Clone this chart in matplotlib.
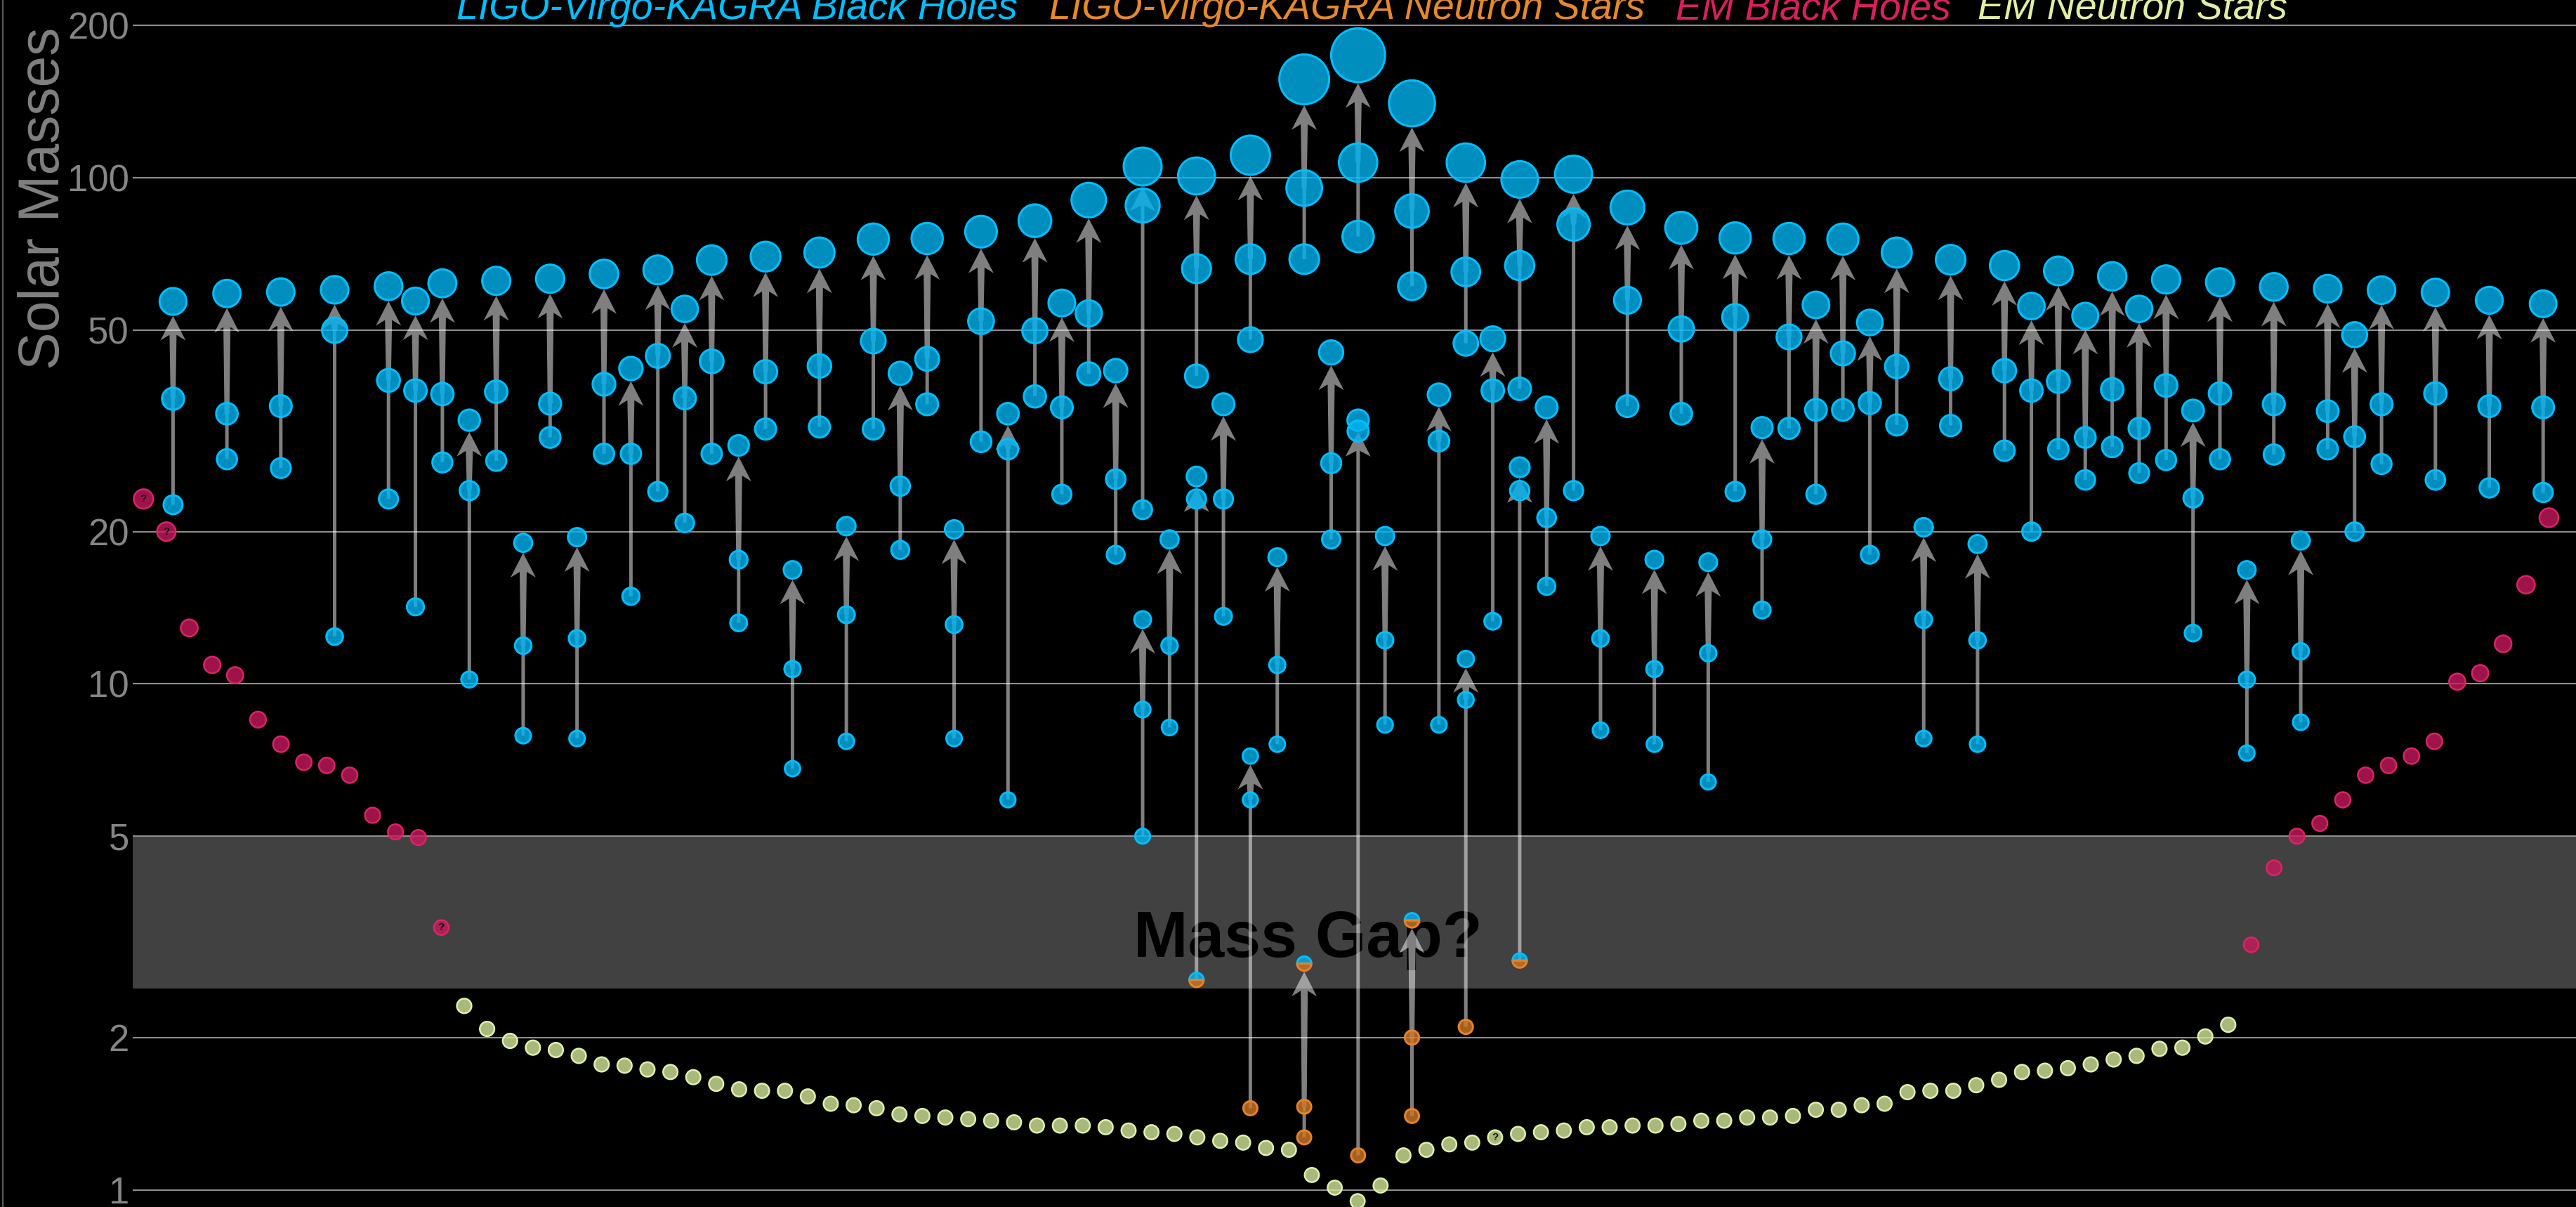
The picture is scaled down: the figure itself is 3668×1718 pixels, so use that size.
import numpy as np
import matplotlib
matplotlib.use("Agg")
import matplotlib.pyplot as plt
from matplotlib.patches import Polygon
from matplotlib.markers import MarkerStyle
from matplotlib.lines import Line2D
from matplotlib.ticker import NullLocator

# ------------------------------------------------------------------
# Data (solar masses)
# ------------------------------------------------------------------
# LIGO-Virgo-KAGRA mergers: column, remnant, primary, secondary
lvk_slot = [0, 2, 4, 6, 8, 9, 10, 11, 12, 13,
            14, 15, 16, 17, 18, 19, 20, 21, 22, 23,
            24, 25, 26, 27, 28, 29, 30, 31, 32, 33,
            34, 35, 36, 36, 37, 38, 38, 39, 40, 40,
            41, 42, 42, 43, 44, 44, 45, 46, 46, 47,
            48, 48, 49, 50, 50, 51, 52, 53, 54, 55,
            56, 57, 58, 59, 60, 61, 62, 63, 64, 65,
            66, 67, 68, 69, 70, 71, 72, 73, 74, 75,
            76, 77, 78, 79, 80, 81, 82, 84, 86, 88]
lvk_final = [57.0, 59.1, 59.5, 60.1, 61.1, 57.1, 61.9, 33.2, 62.6, 19.0,
             63.2, 19.5, 64.6, 42.0, 65.8, 55.1, 68.8, 29.6, 69.9, 16.8,
             71.2, 20.5, 75.7, 41.1, 75.9, 20.2, 78.3, 34.2, 82.3, 56.6,
             90.4, 41.6, 105.3, 13.4, 19.3, 100.9, 25.7, 35.7, 110.9, 7.2,
             17.8, 156.6, 2.8, 45.2, 174.8, 33.2, 19.6, 140.4, 3.41, 37.3,
             107.2, 11.2, 48.1, 99.3, 26.8, 35.2, 101.7, 19.6, 87.4, 17.6,
             79.7, 17.4, 76.1, 32.1, 75.9, 56.1, 75.7, 51.8, 71.2, 20.4,
             68.9, 18.9, 67.1, 55.8, 65.5, 53.4, 63.9, 55.1, 63.0, 34.7,
             62.2, 16.8, 60.9, 19.2, 60.4, 49.0, 60.0, 59.4, 57.3, 56.4]
lvk_primary = [36.6, 34.2, 35.4, 50.0, 39.8, 38.0, 37.4, 24.1, 37.8, 11.9,
               35.8, 12.3, 39.1, 28.5, 44.5, 36.7, 43.4, 17.6, 41.4, 10.7,
               42.5, 13.7, 47.6, 24.6, 43.9, 13.1, 52.1, 29.1, 49.9, 35.2,
               54.0, 25.4, 88.2, 8.9, 11.9, 66.2, 23.2, 23.2, 69.1, 5.9,
               10.9, 95.5, 1.46, 27.3, 107.2, 31.6, 12.2, 86.0, 2.0, 30.2,
               65.2, 9.3, 38.0, 67.1, 24.1, 21.3, 80.9, 12.3, 57.3, 10.7,
               50.3, 11.5, 53.1, 19.3, 48.5, 34.8, 45.0, 35.9, 42.4, 13.4,
               40.1, 12.2, 41.6, 38.0, 39.6, 30.7, 38.2, 32.0, 38.9, 23.3,
               37.5, 10.2, 35.7, 11.6, 34.6, 30.8, 35.7, 37.5, 35.4, 35.2]
lvk_secondary = [22.6, 27.8, 26.7, 12.4, 23.2, 14.2, 27.4, 10.2, 27.6, 7.9,
                 30.7, 7.8, 28.5, 14.9, 24.0, 20.8, 28.5, 13.2, 31.9, 6.8,
                 32.2, 7.7, 31.9, 18.4, 35.7, 7.8, 30.1, 5.9, 37.0, 23.7,
                 41.0, 18.0, 22.1, 5.0, 8.2, 40.6, 2.6, 13.6, 47.9, 1.45,
                 7.6, 69.1, 1.27, 19.3, 76.6, 1.17, 8.3, 61.1, 1.40, 8.3,
                 47.1, 2.1, 13.3, 38.3, 2.84, 15.6, 24.1, 8.1, 35.4, 7.6,
                 34.2, 6.4, 24.0, 14.0, 32.0, 23.7, 34.8, 18.0, 32.5, 7.8,
                 32.4, 7.6, 28.9, 20.0, 29.1, 25.3, 29.4, 26.1, 27.7, 12.6,
                 27.8, 7.3, 28.4, 8.4, 29.1, 20.0, 27.2, 25.3, 24.4, 23.9]
# object class of remnant / primary / secondary:
# B = black hole, N = neutron star, X = uncertain (black hole or neutron star)
lvk_kind = ("BBB BBB BBB BBB BBB BBB BBB BBB BBB BBB "
            "BBB BBB BBB BBB BBB BBB BBB BBB BBB BBB "
            "BBB BBB BBB BBB BBB BBB BBB BBB BBB BBB "
            "BBB BBB BBB BBB BBB BBB BBX BBB BBB BBN "
            "BBB BBB XNN BBB BBB BBN BBB BBB XNN BBB "
            "BBB BBN BBB BBB BBX BBB BBB BBB BBB BBB "
            "BBB BBB BBB BBB BBB BBB BBB BBB BBB BBB "
            "BBB BBB BBB BBB BBB BBB BBB BBB BBB BBB "
            "BBB BBB BBB BBB BBB BBB BBB BBB BBB BBB").split()

# Electromagnetic observations
em_bh_left = [23.2, 20.0, 12.9, 10.9, 10.4, 8.5, 7.6, 7.0, 6.9, 6.6,
              5.5, 5.1, 4.97, 3.3]
em_bh_left_uncertain = [True, True, False, False, False, False, False,
                        False, False, False, False, False, False, True]
em_ns = [2.31, 2.08, 1.97, 1.91, 1.89, 1.84, 1.77, 1.76, 1.73, 1.71,
         1.67, 1.62, 1.58, 1.57, 1.57, 1.53, 1.48,
         1.47, 1.45, 1.41, 1.40, 1.39, 1.38, 1.37, 1.36, 1.34, 1.34,
         1.34, 1.33, 1.31, 1.30, 1.29, 1.27, 1.25, 1.24, 1.21, 1.20,
         1.07, 1.01, 0.95, 1.02, 1.17, 1.20, 1.23, 1.24, 1.27, 1.29,
         1.30, 1.31, 1.33, 1.33, 1.34, 1.34, 1.35,
         1.37, 1.37, 1.39, 1.39, 1.40, 1.44, 1.44, 1.47, 1.48, 1.56,
         1.57, 1.57, 1.61, 1.65, 1.71, 1.72, 1.74, 1.77, 1.81, 1.84,
         1.90, 1.91, 2.01, 2.12]
em_ns_uncertain_index = [45]
em_bh_right = [3.05, 4.33, 5.0, 5.3, 5.9, 6.6, 6.9, 7.2, 7.7, 10.1,
               10.5, 12.0, 15.7, 21.3]

y_ticks = [1, 2, 5, 10, 20, 50, 100, 200]
y_tick_labels = ["1", "2", "5", "10", "20", "50", "100", "200"]
legend_labels = ["LIGO-Virgo-KAGRA Black Holes", "LIGO-Virgo-KAGRA Neutron Stars",
                 "EM Black Holes", "EM Neutron Stars"]
mass_gap = (2.5, 5.0)

# ------------------------------------------------------------------
# Style
# ------------------------------------------------------------------
W, H, DPI = 3668, 1718, 100
FONT = "Liberation Sans"
BH_FACE, BH_EDGE = (0.0, 0.70, 0.94, 0.80), (0.0, 0.75, 1.0, 1.0)
NS_FACE, NS_EDGE = (0.81, 0.47, 0.15, 0.80), (0.90, 0.51, 0.16, 1.0)
EMBH_FACE, EMBH_EDGE = (0.78, 0.10, 0.37, 0.80), (0.86, 0.14, 0.40, 1.0)
EMNS_FACE, EMNS_EDGE = (0.83, 0.91, 0.61, 0.80), (0.88, 0.94, 0.67, 1.0)
LEGEND_COLORS = ["#00bfff", "#e5892b", "#dc1e5f", "#e3eea2"]
ARROW_COLOR = (1.0, 1.0, 1.0, 0.5)
GRID_COLOR = "#8e8e8e"
LABEL_COLOR = "#858585"

X0 = 189                     # left edge of plotting area, px
X_LEFT, X_RIGHT = -1.497, 89.22
Y_BOTTOM, Y_TOP = 0.925, 224.7
EM_START, EM_STEP = -1.098, 0.8506

THIN_W = 5.0                 # secondary -> primary connector, px
SHAFT_W0, SHAFT_W1 = 7.0, 10.0
HEAD_W, HEAD_LEN, HEAD_NOTCH = 36.0, 35.0, 8.0


def diameter_px(m):
    return 22.5 + 0.328 * np.asarray(m, dtype=float)


def marker_area(m, lw_px):
    d = (diameter_px(m) - lw_px) * 72.0 / DPI
    return d ** 2


plt.rcParams["font.family"] = [FONT, "DejaVu Sans"]
fig = plt.figure(figsize=(W / DPI, H / DPI), dpi=DPI, facecolor="black")
ax = fig.add_axes([X0 / W, 0.0, 1.0 - X0 / W, 1.0])
ax.set_facecolor("black")
ax.set_yscale("log")
ax.set_xlim(X_LEFT, X_RIGHT)
ax.set_ylim(Y_BOTTOM, Y_TOP)
for sp in ax.spines.values():
    sp.set_visible(False)
ax.set_xticks([])
ax.set_yticks(y_ticks)
ax.set_yticklabels(y_tick_labels, fontsize=38, color=LABEL_COLOR, family=FONT)
ax.yaxis.set_minor_locator(NullLocator())
ax.tick_params(axis="y", length=0, pad=3.6)

# mass-gap band and gridlines
ax.axhspan(*mass_gap, color="#414141", lw=0, zorder=1)
for t in y_ticks:
    ax.axhline(t, color=GRID_COLOR, lw=1.5, zorder=1.5)
ax.text(42.13, 2.89, "Mass Gap?", ha="center", va="baseline", fontsize=67,
        fontweight="bold", family=FONT, color="black", zorder=2)

# ------------------------------------------------------------------
# Merger arrows (built in pixel space, stored in data space)
# ------------------------------------------------------------------
to_px = ax.transData.transform
to_data = ax.transData.inverted().transform

for s, mf, m1, m2 in zip(lvk_slot, lvk_final, lvk_primary, lvk_secondary):
    p = to_px([(s, mf), (s, m1), (s, m2)])
    cx = p[0, 0]
    yf, y1, y2 = p[:, 1]
    tip = yf - diameter_px(mf) / 2.0
    barb = tip - HEAD_LEN
    neck = barb + HEAD_NOTCH
    if y1 < neck - 1:
        right = [(cx + THIN_W / 2, y2), (cx + THIN_W / 2, y1),
                 (cx + SHAFT_W0 / 2, y1), (cx + SHAFT_W1 / 2, neck)]
    else:
        right = [(cx + THIN_W / 2, y2), (cx + THIN_W / 2, neck)]
    right.append((cx + HEAD_W / 2, barb))
    left = [(2 * cx - x, y) for x, y in reversed(right)]
    verts = right + [(cx, tip)] + left
    ax.add_patch(Polygon(to_data(verts), closed=True, facecolor=ARROW_COLOR,
                         edgecolor="none", zorder=3))

# ------------------------------------------------------------------
# Merger bodies
# ------------------------------------------------------------------
groups = {"B": ([], []), "N": ([], []), "X": ([], [])}
for s, mf, m1, m2, kind in zip(lvk_slot, lvk_final, lvk_primary,
                               lvk_secondary, lvk_kind):
    for m, k in zip((mf, m1, m2), kind):
        groups[k][0].append(s)
        groups[k][1].append(m)

LW_LVK = 3.0
xs, ms = groups["B"]
ax.scatter(xs, ms, s=marker_area(ms, LW_LVK), facecolors=[BH_FACE],
           edgecolors=[BH_EDGE], linewidths=LW_LVK * 0.72, zorder=4)
xs, ms = groups["N"]
ax.scatter(xs, ms, s=marker_area(ms, LW_LVK), facecolors=[NS_FACE],
           edgecolors=[NS_EDGE], linewidths=LW_LVK * 0.72, zorder=4)
xs, ms = groups["X"]
ax.scatter(xs, ms, s=marker_area(ms, LW_LVK), marker=MarkerStyle("o", "top"),
           facecolors=[BH_FACE], edgecolors=[BH_EDGE],
           linewidths=LW_LVK * 0.72, zorder=4)
ax.scatter(xs, ms, s=marker_area(ms, LW_LVK), marker=MarkerStyle("o", "bottom"),
           facecolors=[NS_FACE], edgecolors=[NS_EDGE],
           linewidths=LW_LVK * 0.72, zorder=4)

# ------------------------------------------------------------------
# Electromagnetic observations
# ------------------------------------------------------------------
LW_EM = 2.5
n_left, n_ns = len(em_bh_left), len(em_ns)
em_x = EM_START + EM_STEP * np.arange(n_left + n_ns + len(em_bh_right))
x_bh_left = em_x[:n_left]
x_ns = em_x[n_left:n_left + n_ns]
x_bh_right = em_x[n_left + n_ns:]

for xv, mv in ((x_bh_left, em_bh_left), (x_bh_right, em_bh_right)):
    ax.scatter(xv, mv, s=marker_area(mv, LW_EM), facecolors=[EMBH_FACE],
               edgecolors=[EMBH_EDGE], linewidths=LW_EM * 0.72, zorder=4)
ax.scatter(x_ns, em_ns, s=marker_area(em_ns, LW_EM), facecolors=[EMNS_FACE],
           edgecolors=[EMNS_EDGE], linewidths=LW_EM * 0.72, zorder=4)

q_points = [(x, m) for x, m, q in zip(x_bh_left, em_bh_left, em_bh_left_uncertain) if q]
q_points += [(x_ns[i], em_ns[i]) for i in em_ns_uncertain_index]
for x, m in q_points:
    ax.text(x, m, "?", ha="center", va="center", fontsize=11, fontweight="bold",
            color="#141414", family=FONT, zorder=5)

# ------------------------------------------------------------------
# Labels
# ------------------------------------------------------------------
fig.text(63 / W, 1 - 282 / H, "Solar Masses", rotation=90, ha="center",
         va="center", fontsize=58, color="#808080", family=FONT)

legend_x = [650, 1494, 2386, 2816]
for x, lab, col in zip(legend_x, legend_labels, LEGEND_COLORS):
    fig.text(x / W, 1 - 27 / H, lab, ha="left", va="baseline", fontsize=40,
             style="italic", color=col, family=FONT)

fig.add_artist(Line2D([3.5 / W, 3.5 / W], [0, 1], color="#5a5a5a", lw=1.6,
                      transform=fig.transFigure))

fig.savefig("out.png", dpi=DPI, facecolor="black")
